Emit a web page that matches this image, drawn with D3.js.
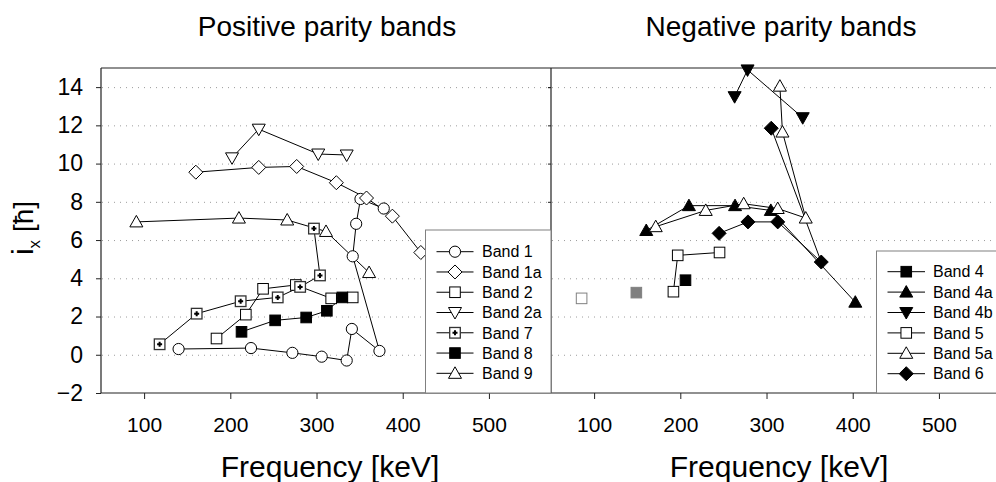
<!DOCTYPE html>
<html><head><meta charset="utf-8">
<script src="https://cdn.jsdelivr.net/npm/d3@7"></script>
<style>
body{margin:0;background:#fff}
svg{display:block}
text{font-family:"Liberation Sans",Arial,Helvetica,sans-serif;fill:#000}
</style>
</head><body>
<svg id="c" width="996" height="482"></svg>
<script>
// ---------- data (frequency keV, i_x) ----------
const band1  = [[140,0.3],[224,0.35],[272,0.1],[306,-0.1],[335,-0.3],[341,1.35],[373,0.2],[342,5.15],[346,6.85],[351,8.15],[378,7.65]];
const band1a = [[160,9.55],[233,9.8],[277,9.85],[323,9.0],[358,8.2],[388,7.25],[421,5.35]];
const band2  = [[184,0.85],[218,2.1],[238,3.45],[276,3.65],[317,2.95],[342,3.0]];
const band2a = [[202,10.3],[233,11.8],[302,10.5],[335,10.45]];
const band7  = [[118,0.55],[161,2.15],[212,2.8],[255,3.0],[281,3.55],[304,4.15],[297,6.6]];
const band8  = [[213,1.2],[252,1.8],[288,1.95],[312,2.3],[330,3.0]];
const band9  = [[91,6.95],[210,7.15],[266,7.05],[311,6.45],[361,4.3]];

const band4     = [[206,3.9]];
const band4Tent = [[149,3.25]];
const band4a    = [[160.5,6.5],[210,7.8],[263.5,7.8],[305,7.55],[403,2.75]];
const band4b    = [[263,13.5],[278,14.9],[342,12.4]];
const band5     = [[192,3.3],[197,5.2],[245.5,5.35]];
const band5Tent = [[85.5,2.95]];
const band5a    = [[171.5,6.7],[229.5,7.55],[273.5,7.9],[313,7.65],[345.5,7.15],[318.5,11.65],[315.5,14.05]];
const band6     = [[245,6.35],[278.5,6.95],[313,6.95],[363.5,4.85],[305.5,11.85]];

const xTickValues = [100,200,300,400,500];
const yTickValues = [-2,0,2,4,6,8,10,12,14];
const gridValues  = [0,2,4,6,8,10,12,14];
const panelTitles = ["Positive parity bands","Negative parity bands"];
const xTitle = "Frequency [keV]";

const leftSeries = [
  {name:"Band 1",  data:band1,  sym:"circle"},
  {name:"Band 1a", data:band1a, sym:"diamond"},
  {name:"Band 2",  data:band2,  sym:"square"},
  {name:"Band 2a", data:band2a, sym:"tridown"},
  {name:"Band 7",  data:band7,  sym:"cross"},
  {name:"Band 8",  data:band8,  sym:"squareF"},
  {name:"Band 9",  data:band9,  sym:"triup"}
];
const rightSeries = [
  {name:"Band 4",  data:band4,  sym:"squareF"},
  {name:"Band 4a", data:band4a, sym:"triupF"},
  {name:"Band 4b", data:band4b, sym:"tridownF"},
  {name:"Band 5",  data:band5,  sym:"square"},
  {name:"Band 5a", data:band5a, sym:"triup"},
  {name:"Band 6",  data:band6,  sym:"diamondF"}
];
const extraRight = [
  {data:band5Tent, sym:"squareGreyOpen"},
  {data:band4Tent, sym:"squareGrey"}
];

// ---------- drawing ----------
const svg = d3.select("#c");
const y  = d3.scaleLinear().domain([-2,15]).range([393,68]);
const xL = d3.scaleLinear().domain([50,572]).range([101,551]);
const xR = d3.scaleLinear().domain([50,572]).range([551,1001]);
const AX = "#222";

// grid
svg.append("g").selectAll("line").data(gridValues).join("line")
  .attr("x1",102).attr("x2",996)
  .attr("y1",d=>y(d)+0.5).attr("y2",d=>y(d)+0.5)
  .attr("stroke","#9c9c9c").attr("stroke-width",1).attr("stroke-dasharray","1,5");

function drawMarker(g, sym, cx, cy){
  const s = g.append("g").attr("transform",`translate(${cx},${cy})`);
  switch(sym){
    case "circle": s.append("circle").attr("r",5.6).attr("fill","#fff").attr("stroke","#000"); break;
    case "square": s.append("rect").attr("x",-5.3).attr("y",-5.3).attr("width",10.6).attr("height",10.6).attr("fill","#fff").attr("stroke","#000"); break;
    case "squareF": s.append("rect").attr("x",-5.3).attr("y",-5.3).attr("width",10.6).attr("height",10.6).attr("fill","#000").attr("stroke","#000"); break;
    case "squareGrey": s.append("rect").attr("x",-5.3).attr("y",-5.3).attr("width",10.6).attr("height",10.6).attr("fill","#808080").attr("stroke","#808080"); break;
    case "squareGreyOpen": s.append("rect").attr("x",-5.3).attr("y",-5.3).attr("width",10.6).attr("height",10.6).attr("fill","#fff").attr("stroke","#808080"); break;
    case "cross":
      s.append("rect").attr("x",-5.3).attr("y",-5.3).attr("width",10.6).attr("height",10.6).attr("fill","#fff").attr("stroke","#333").attr("stroke-width",1.3);
      s.append("path").attr("d","M-2.5,0H2.5M0,-2.5V2.5").attr("stroke","#000").attr("stroke-width",2);
      break;
    case "diamond": s.append("path").attr("d","M0,-7L7,0L0,7L-7,0Z").attr("fill","#fff").attr("stroke","#000"); break;
    case "diamondF": s.append("path").attr("d","M0,-7L7,0L0,7L-7,0Z").attr("fill","#000").attr("stroke","#000"); break;
    case "triup": s.append("path").attr("d","M0,-6.5L6.5,5L-6.5,5Z").attr("fill","#fff").attr("stroke","#000"); break;
    case "triupF": s.append("path").attr("d","M0,-6.5L6.5,5L-6.5,5Z").attr("fill","#000").attr("stroke","#000"); break;
    case "tridown": s.append("path").attr("d","M0,6.5L6.5,-5L-6.5,-5Z").attr("fill","#fff").attr("stroke","#000"); break;
    case "tridownF": s.append("path").attr("d","M0,6.5L6.5,-5L-6.5,-5Z").attr("fill","#000").attr("stroke","#000"); break;
  }
}

function drawSeries(series, x){
  const line = d3.line().x(d=>x(d[0])).y(d=>y(d[1]));
  const g = svg.append("g");
  series.forEach(s=>{
    if(s.data.length>1) g.append("path").attr("d",line(s.data)).attr("fill","none").attr("stroke","#000").attr("stroke-width",1);
  });
  series.forEach(s=>{
    s.data.forEach(d=>drawMarker(g, s.sym, x(d[0]), y(d[1])));
  });
}

// axes
function axes(x, showLabels, ySize){
  const gx = svg.append("g").attr("transform","translate(0,393)")
    .call(d3.axisBottom(x).tickValues(xTickValues).tickSize(6).tickSizeOuter(0).tickPadding(18));
  gx.select(".domain").remove();
  gx.selectAll("line").attr("stroke",AX);
  gx.selectAll("text").attr("font-size",21).attr("font-family","Liberation Sans, Arial, sans-serif");
  const gy = svg.append("g").attr("transform",`translate(${x.range()[0]},0)`)
    .call(d3.axisLeft(y).tickValues(showLabels?yTickValues:gridValues.concat([14])).tickSize(ySize).tickSizeOuter(0).tickPadding(13)
      .tickFormat(showLabels?d3.format("d"):()=>""));
  gy.select(".domain").remove();
  gy.selectAll("line").attr("stroke",AX);
  gy.selectAll("text").attr("font-size",23).attr("font-family","Liberation Sans, Arial, sans-serif");
}
axes(xL,true,5);
axes(xR,false,3);

// frame
svg.append("path").attr("d",`M101,68H996M101,68V393H996M551,68V393`)
  .attr("fill","none").attr("stroke",AX).attr("stroke-width",1.2);

drawSeries(leftSeries, xL);
drawSeries(rightSeries, xR);
extraRight.forEach(s=>s.data.forEach(d=>drawMarker(svg, s.sym, xR(d[0]), y(d[1]))));

// legends
function legend(series, x0, y0, x1, rowY, dy, lx0, lx1, tx){
  const g = svg.append("g");
  g.append("rect").attr("x",x0).attr("y",y0).attr("width",x1-x0).attr("height",393-y0)
    .attr("fill","#fff").attr("stroke","#808080").attr("stroke-width",1);
  series.forEach((s,i)=>{
    const yy = rowY + i*dy;
    g.append("line").attr("x1",lx0).attr("x2",lx1).attr("y1",yy).attr("y2",yy).attr("stroke","#000");
    drawMarker(g, s.sym, (lx0+lx1)/2, yy);
    g.append("text").attr("x",tx).attr("y",yy).attr("dy","0.36em").attr("font-size",16).text(s.name);
  });
}
legend(leftSeries, 425.5, 230, 551, 251.7, 20.27, 436.5, 473.5, 482);
legend(rightSeries, 876.5, 251, 1000, 271.7, 20.4, 887.5, 925, 933);

// titles
svg.append("text").attr("x",327).attr("y",36).attr("text-anchor","middle").attr("font-size",28).text(panelTitles[0]);
svg.append("text").attr("x",781).attr("y",36).attr("text-anchor","middle").attr("font-size",28).text(panelTitles[1]);
svg.append("text").attr("x",330).attr("y",477).attr("text-anchor","middle").attr("font-size",30).text(xTitle);
svg.append("text").attr("x",779).attr("y",477).attr("text-anchor","middle").attr("font-size",30).text(xTitle);

// y label
const yl = svg.append("text").attr("transform","translate(33,228) rotate(-90)").attr("text-anchor","middle");
yl.append("tspan").attr("font-size",30).text("i");
yl.append("tspan").attr("font-size",17).attr("dy",7).text("x");
yl.append("tspan").attr("font-size",28).attr("dy",-7).text(" [ħ]");
</script>
</body></html>
